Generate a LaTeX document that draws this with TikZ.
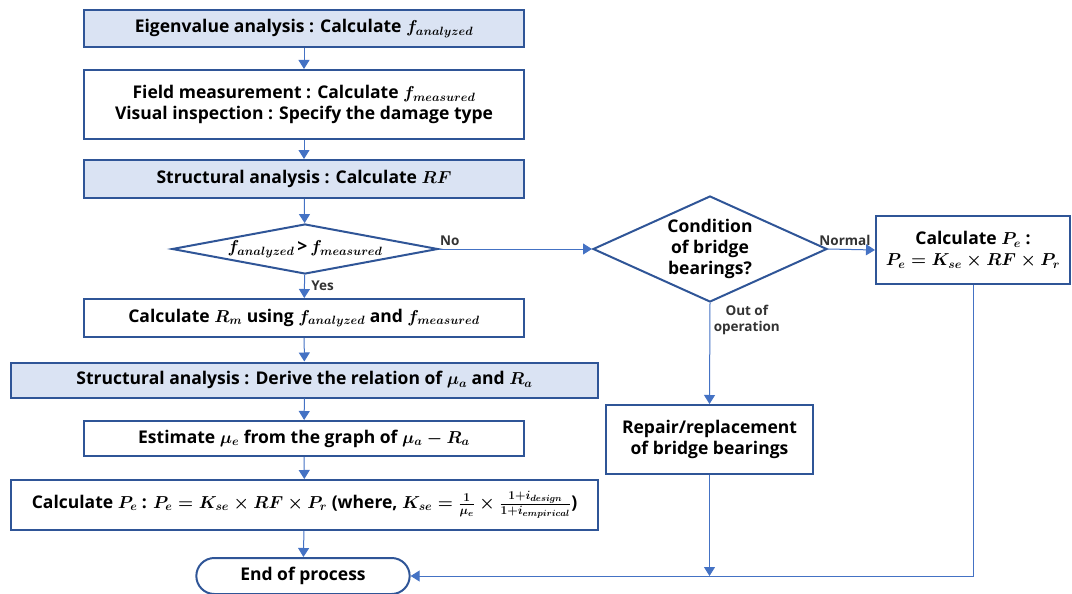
\documentclass[tikz,border=0pt]{standalone}
\usepackage{fontspec}
\setmainfont{Open Sans}
\usetikzlibrary{shapes.geometric,shapes.misc,arrows.meta}
\definecolor{boxblue}{HTML}{2F5597}
\definecolor{fillblue}{HTML}{DAE3F3}
\definecolor{lineblue}{HTML}{4472C4}
\begin{document}
\begin{tikzpicture}[x=1pt,y=-1pt,font=\fontsize{17.5}{21}\selectfont\bfseries\boldmath]
    % --- styles ---
    \tikzstyle{proc}=[draw=boxblue, line width=2pt, align=center, inner sep=2pt]
    \tikzstyle{procfill}=[proc, fill=fillblue]
    \tikzstyle{decide}=[diamond, draw=boxblue, line width=2pt, align=center, inner sep=0pt]
    \tikzstyle{flow}=[-{Triangle[width=11pt,length=9pt]}, lineblue, line width=1pt]
    \tikzstyle{lab}=[font=\fontsize{13.5}{16}\selectfont\bfseries, text=black!80, align=center]

    \useasboundingbox (0,0) rectangle (1072,594);

    % ====== main column ======
    \node[procfill, minimum width=440, minimum height=37] (eig) at (304,28.5)
        {Eigenvalue analysis : Calculate $f_{analyzed}$};
    \node[proc, minimum width=440, minimum height=69] (field) at (304,104.5)
        {Field measurement : Calculate $f_{measured}$\\Visual inspection : Specify the damage type};
    \node[procfill, minimum width=440, minimum height=38] (rf) at (304,179)
        {Structural analysis : Calculate $RF$};
    \node[decide, minimum width=266, minimum height=50, aspect=5.3] (cmp) at (305,249)
        {$f_{analyzed}$\,>\,$f_{measured}$};
    \node[proc, minimum width=440, minimum height=38] (rm) at (304,318)
        {Calculate $R_m$ using $f_{analyzed}$ and $f_{measured}$};
    \node[procfill, minimum width=587, minimum height=35] (mu) at (304.5,380)
        {Structural analysis : Derive the relation of $\mu_a$ and $R_a$};
    \node[proc, minimum width=440, minimum height=35] (est) at (304,438.5)
        {Estimate $\mu_e$ from the graph of $\mu_a-R_a$};
    \node[proc, minimum width=587, minimum height=50] (pe) at (304.5,505)
        {Calculate $P_e$ : $P_e=K_{se}\times RF\times P_r$ (where, $K_{se}=\frac{1}{\mu_e}\times\frac{1+i_{design}}{1+i_{empirical}}$)};
    \node[rounded rectangle, draw=boxblue, line width=2pt, minimum width=220, minimum height=36] (endp) at (303,576)
        {End of process};

    % ====== bearing branch ======
    \node[decide, minimum width=234, minimum height=106, aspect=2.2] (cond) at (710,249)
        {Condition\\of bridge\\bearings?};
    \node[proc, minimum width=194, minimum height=68] (pecalc) at (973,250)
        {Calculate $P_e$ :\\$P_e=K_{se}\times RF\times P_r$};
    \node[proc, minimum width=207, minimum height=69] (repair) at (709.5,439.5)
        {Repair/replacement\\of bridge bearings};

    % ====== connectors ======
    \draw[flow] (eig) -- (field);
    \draw[flow] (field) -- (rf);
    \draw[flow] (rf) -- (cmp);
    \draw[flow] (cmp) -- node[lab, right=3pt, pos=0.45] {Yes} (rm);
    \draw[flow] (rm) -- (mu);
    \draw[flow] (mu) -- (est);
    \draw[flow] (est) -- (pe);
    \draw[flow] (pe) -- (endp);

    \draw[flow] (cmp.east) -- node[lab, above, pos=0.07] {No} (cond.west);
    \draw[flow] (cond.east) -- node[lab, above, pos=0.36] {Normal} (pecalc.west);
    \draw[flow] (cond.south) -- node[lab, right, pos=0.17] {Out of\\operation} (repair.north);
    \draw[flow] (pecalc.south) |- (endp.east);
    \draw[flow] (repair.south) -- (repair.south |- endp.east);
\end{tikzpicture}
\end{document}
